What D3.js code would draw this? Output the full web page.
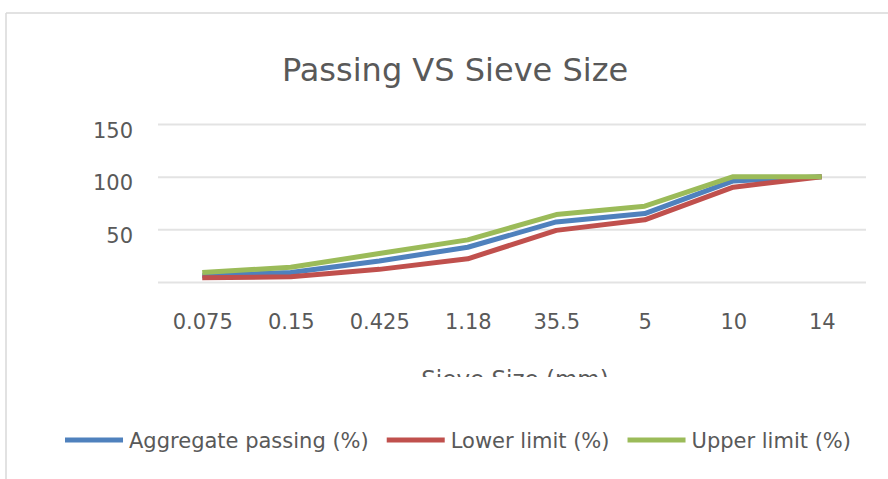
<!DOCTYPE html>
<meta charset="utf-8">
<html>
  <head>
    <script src="https://d3js.org/d3.v7.min.js" type="text/javascript"></script>
    <style>
      body { margin: 0; background: #fff; }
      text { font-family: "DejaVu Sans", sans-serif; fill: #595959; }
      .domain { display: none; }
    </style>
  </head>
  <body>
    <div id="chart"></div>
    <script type="text/javascript">

      // sieve sizes (as printed on the x axis)
      var sieveSizes = ["0.075", "0.15", "0.425", "1.18", "35.5", "5", "10", "14"];
      // % passing
      var aggregatePassing = [6, 9, 20, 33, 57, 65, 96, 100];
      var lowerLimit = [4, 5, 12, 22, 49, 59, 90, 100];
      var upperLimit = [9, 14, 27, 40, 64, 72, 100, 100];
      var yTicks = [0, 50, 100, 150];

      var series = [
        {name: "Aggregate passing (%)", values: aggregatePassing, color: "#4F81BD"},
        {name: "Lower limit (%)", values: lowerLimit, color: "#C0504D"},
        {name: "Upper limit (%)", values: upperLimit, color: "#9BBB59"}
      ];

      var width = 888, height = 479;
      var plotLeft = 158, plotRight = 866, plotTop = 124, plotBottom = 282;

      var svg = d3.select("#chart").append("svg")
          .attr("width", width)
          .attr("height", height);

      // chart frame (only top and left edges show in the picture)
      svg.append("line").attr("x1", 6).attr("x2", width).attr("y1", 13).attr("y2", 13)
          .attr("stroke", "#d9d9d9").attr("stroke-width", 1.5);
      svg.append("line").attr("x1", 6).attr("x2", 6).attr("y1", 13).attr("y2", height)
          .attr("stroke", "#d9d9d9").attr("stroke-width", 1.5);

      svg.append("text")
          .attr("x", 455)
          .attr("y", 81)
          .attr("text-anchor", "middle")
          .style("font-size", "32px")
          .text("Passing VS Sieve Size");

      var x = d3.scalePoint()
          .domain(sieveSizes)
          .range([plotLeft, plotRight])
          .padding(0.5);

      var y = d3.scaleLinear()
          .domain([0, 150])
          .range([plotBottom, plotTop]);

      // y axis with gridlines
      var yAxis = svg.append("g")
          .attr("transform", "translate(" + plotLeft + ",0)")
          .call(d3.axisLeft(y)
            .tickValues(yTicks)
            .tickSize(-(plotRight - plotLeft))
            .tickPadding(25)
            .tickFormat(function(d) { return d === 0 ? "" : d; }));
      yAxis.selectAll(".tick line").attr("stroke", "#e3e3e3").attr("stroke-width", 2);
      yAxis.selectAll(".tick text")
          .attr("dy", "0.62em")
          .style("font-size", "21px");

      // x axis labels
      var xAxis = svg.append("g")
          .attr("transform", "translate(0," + plotBottom + ")")
          .call(d3.axisBottom(x).tickSize(0).tickPadding(47));
      xAxis.selectAll(".tick text")
          .attr("dy", 0)
          .style("font-size", "21px");

      // axis title is cut off at the bottom in the original
      svg.append("clipPath").attr("id", "titleClip")
        .append("rect").attr("x", 0).attr("y", 300).attr("width", width).attr("height", 77);
      svg.append("text")
          .attr("clip-path", "url(#titleClip)")
          .attr("x", 515)
          .attr("y", 387)
          .attr("text-anchor", "middle")
          .style("font-size", "23px")
          .text("Sieve Size (mm)");

      var line = d3.line()
          .x(function(d, i) { return x(sieveSizes[i]); })
          .y(function(d) { return y(d); });

      svg.append("g").selectAll("path")
          .data(series)
          .enter().append("path")
          .attr("d", function(d) { return line(d.values); })
          .attr("fill", "none")
          .attr("stroke", function(d) { return d.color; })
          .attr("stroke-width", 5)
          .attr("stroke-linejoin", "round");

      // legend
      var legend = svg.append("g");
      var item = legend.selectAll("g")
          .data(series)
          .enter().append("g");
      item.append("line")
          .attr("x1", 0).attr("x2", 58)
          .attr("y1", 0).attr("y2", 0)
          .attr("stroke", function(d) { return d.color; })
          .attr("stroke-width", 5);
      item.append("text")
          .attr("x", 64)
          .attr("y", 8)
          .style("font-size", "21px")
          .text(function(d) { return d.name; });

      var offset = 0;
      item.each(function() {
        var w = this.getBBox().width;
        d3.select(this).attr("transform", "translate(" + offset + ",0)");
        offset += w + 18;
      });
      var total = offset - 18;
      legend.attr("transform", "translate(" + (458 - total / 2) + ",440)");
    </script>
  </body>
</html>
